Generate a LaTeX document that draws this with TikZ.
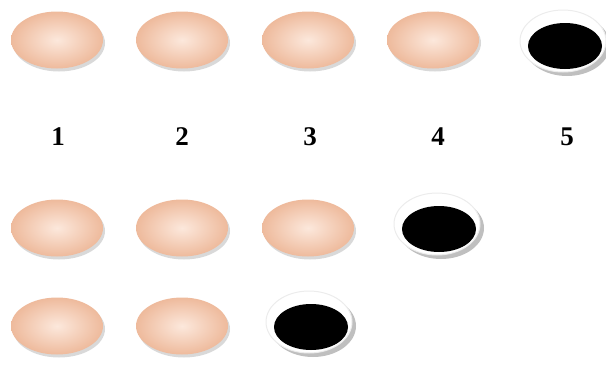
\documentclass[tikz,border=0pt]{standalone}
\usepackage{fontspec}
\setmainfont{Liberation Serif}
\usetikzlibrary{shadows,shapes.geometric}
\definecolor{peach}{RGB}{238,186,156}
\definecolor{peachlight}{RGB}{252,232,220}
\tikzset{
  pill/.style={ellipse, minimum width=92pt, minimum height=57pt, inner sep=0pt,
    inner color=peachlight, outer color=peach,
    drop shadow={shadow xshift=2pt, shadow yshift=-3pt, opacity=0.3, fill=gray}},
  hole/.style={ellipse, minimum width=86pt, minimum height=62pt, inner sep=0pt,
    fill=white, draw=gray!15, line width=1pt,
    drop shadow={shadow xshift=4pt, shadow yshift=-4pt, opacity=0.5, fill=gray}},
  holein/.style={ellipse, minimum width=74pt, minimum height=46pt, inner sep=0pt, fill=black},
  num/.style={font=\bfseries\fontsize{27}{30}\selectfont}
}
\begin{document}
\begin{tikzpicture}[x=1pt,y=-1pt]
\useasboundingbox (0,0) rectangle (606,370);
% row 1
\node[pill] (a1) at (57,40) {};
\node[pill] (a2) at (182,40) {};
\node[pill] (a3) at (308,40) {};
\node[pill] (a4) at (433,40) {};
\node[hole] (a5) at (563,41) {};
\node[holein] (a5i) at (565,46) {};
% labels
\node[num] (n1) at (58,137) {1};
\node[num] (n2) at (182,137) {2};
\node[num] (n3) at (310,137) {3};
\node[num] (n4) at (438,137) {4};
\node[num] (n5) at (567,137) {5};
% row 2
\node[pill] (b1) at (57,228) {};
\node[pill] (b2) at (182,228) {};
\node[pill] (b3) at (308,228) {};
\node[hole] (b4) at (437,224) {};
\node[holein] (b4i) at (439,229) {};
% row 3
\node[pill] (c1) at (57,326) {};
\node[pill] (c2) at (182,326) {};
\node[hole] (c3) at (309,322) {};
\node[holein] (c3i) at (311,327) {};
\end{tikzpicture}
\end{document}
